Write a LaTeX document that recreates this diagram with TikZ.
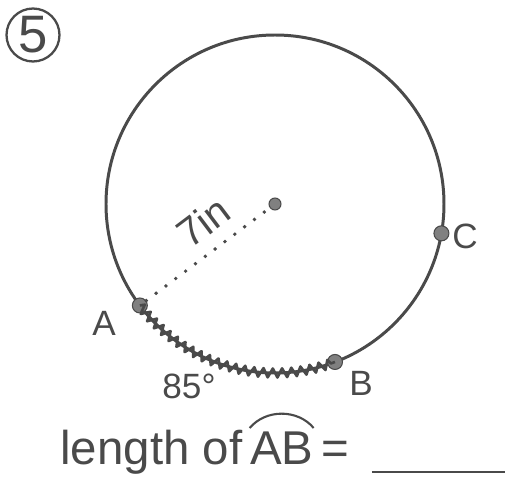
\documentclass[tikz,border=0pt]{standalone}
\usepackage{fontspec}
\setmainfont{Liberation Sans}
\usetikzlibrary{decorations.pathmorphing}
\definecolor{pencil}{HTML}{4A4A4A}
\definecolor{dotgray}{HTML}{808080}
\begin{document}
\begin{tikzpicture}
  [x=0.02cm,y=0.02cm,line join=round,
   every node/.style={text=pencil},
   pt/.style={circle,fill=dotgray,draw=pencil,line width=0.6pt,inner sep=0pt,minimum size=0.3cm},
   lbl/.style={font=\fontsize{20}{20}\selectfont},
   big/.style={font=\fontsize{27}{27}\selectfont}]
  \useasboundingbox (0,0) rectangle (512,481);

  % problem number
  \node[draw=pencil,circle,line width=1.3pt,minimum size=1.06cm,inner sep=0pt,font=\fontsize{30}{30}\selectfont] (num) at (33,446) {5};

  % circle and its points
  \coordinate (O) at (275,277);
  \draw[pencil,line width=1.7pt] (O) circle[radius=169];
  \path (O) ++(216.9:169) node[pt] (A) {};
  \path (O) ++(290.8:169) node[pt] (B) {};
  \path (O) ++(350:169) node[pt] (C) {};
  \node[pt,minimum size=0.24cm] (c) at (O) {};

  % radius
  \draw[pencil,line width=2.2pt,line cap=round,dash pattern=on 0pt off 7pt] (A) -- (c);
  \node[lbl,rotate=37,font=\fontsize{23}{23}\selectfont] (r) at (203,259) {7in};

  % marked arc
  \draw[pencil,line width=1.5pt,decorate,decoration={zigzag,segment length=0.19cm,amplitude=0.09cm}]
    (A) arc[start angle=216.9,end angle=290.8,radius=169];

  \node[lbl] (la) at (104,158) {A};
  \node[lbl] (lb) at (361,98) {B};
  \node[lbl] (lc) at (465,245) {C};
  \node[lbl] (ang) at (189,95) {85°};

  % question
  \node[big,anchor=base west,inner sep=0pt] (q) at (60,16) {length of};
  \node[big,anchor=base west,inner sep=0pt] (ab) at ([xshift=0.14cm]q.base east) {AB};
  \node[big,anchor=base west,inner sep=0pt] (eq) at ([xshift=0.14cm]ab.base east) {=};
  \draw[pencil,line width=1.2pt] ([yshift=0.08cm]ab.north west) to[bend left=50] ([yshift=0.08cm]ab.north east);
  \draw[pencil,line width=1.5pt] (372,9) -- (505,9);
\end{tikzpicture}
\end{document}
